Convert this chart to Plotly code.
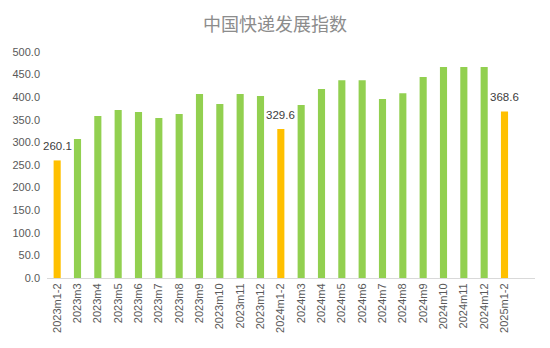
import plotly.graph_objects as go

categories = ["2023m1-2", "2023m3", "2023m4", "2023m5", "2023m6", "2023m7", "2023m8",
              "2023m9", "2023m10", "2023m11", "2023m12", "2024m1-2", "2024m3", "2024m4",
              "2024m5", "2024m6", "2024m7", "2024m8", "2024m9", "2024m10", "2024m11",
              "2024m12", "2025m1-2"]
values = [260.1, 307.5, 358.4, 371.7, 367.3, 354.0, 362.8, 407.0, 385.0, 407.0, 402.7,
          329.6, 383.0, 418.0, 437.5, 437.5, 396.0, 409.0, 444.7, 466.8, 466.8, 466.8, 368.6]
highlight = ["2023m1-2", "2024m1-2", "2025m1-2"]
tick_vals = [0, 50, 100, 150, 200, 250, 300, 350, 400, 450, 500]

GREEN = "#92D050"
YELLOW = "#FFC000"
colors = [YELLOW if c in highlight else GREEN for c in categories]

fig = go.Figure()
fig.add_trace(go.Bar(x=categories, y=values, marker=dict(color=colors, line=dict(width=0)),
                     width=0.35, hoverinfo="x+y"))

for c, v in zip(categories, values):
    if c in highlight:
        fig.add_annotation(x=c, y=v, text=f"{v:.1f}", showarrow=False, yshift=14,
                           font=dict(size=11.5, color="#404040", family="Liberation Sans, Arial"))

fig.update_layout(
    width=550, height=348,
    margin=dict(l=45, r=15, t=52, b=70),
    paper_bgcolor="white", plot_bgcolor="white",
    title=dict(text="中国快递发展指数", x=0.5, xanchor="center", y=0.93, yanchor="middle",
               font=dict(size=18, color="#8c8c8c", family="Noto Sans CJK SC")),
    showlegend=False,
    bargap=0.65,
    font=dict(family="Liberation Sans, Arial", size=11, color="#595959"),
)
fig.update_xaxes(type="category", range=[-0.5, 23.5], tickangle=-90, showline=True,
                 linecolor="#d9d9d9", linewidth=1, ticks="", showgrid=False,
                 tickfont=dict(size=11, color="#595959"))
fig.update_yaxes(range=[0, 500], tickvals=tick_vals, tickformat=".1f", showgrid=False,
                 zeroline=False, showline=False, ticks="", ticklabelstandoff=6,
                 tickfont=dict(size=11, color="#595959"))

fig.write_html("out.html")
